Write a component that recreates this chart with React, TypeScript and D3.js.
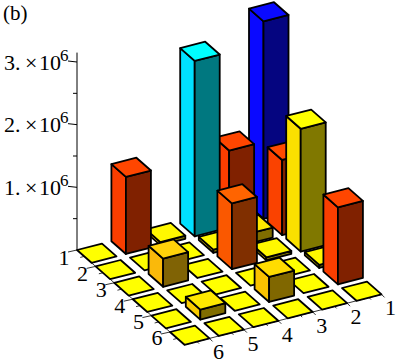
import React from "react";
import * as d3 from "d3";

const rowLabels = ["1", "2", "3", "4", "5", "6"];
const colLabels = ["1", "2", "3", "4", "5", "6"];
const zTicks = [1000000, 2000000, 3000000];
const zMinorTicks = [500000, 1500000, 2500000];

// heights per row, columns 1..6
const row1 = [3150000, 1230000, 2800000, 50000, 1230000, 0];
const row2 = [1200000, 160000, 50000, 0, 0, 0];
const row3 = [1960000, 50000, 1050000, 0, 450000, 0];
const row4 = [50000, 0, 0, 0, 0, 0];
const row5 = [1230000, 0, 400000, 0, 160000, 0];
const row6 = [0, 0, 0, 0, 0, 0];
const rows = [row1, row2, row3, row4, row5, row6];

const width = 398;
const height = 364;

// oblique projection
const rowX = d3.scaleLinear().domain([1, 6]).range([0, 93]);
const rowY = d3.scaleLinear().domain([1, 6]).range([0, 82]);
const colX = d3.scaleLinear().domain([6, 1]).range([77, 249]);
const colY = d3.scaleLinear().domain([6, 1]).range([250, 206]);
const zY = d3.scaleLinear().domain([0, 3000000]).range([0, 188]);

const project = (i: number, j: number, z: number): [number, number] => [
  rowX(i) + colX(j),
  rowY(i) + colY(j) - zY(z),
];

const cellI = 0.78;
const cellJ = 0.727;

const topColor = d3
  .scaleLinear<string>()
  .domain([0, 160000, 400000, 450000, 1050000, 1230000, 1960000, 2800000, 3150000])
  .range(["#ffff00", "#ffe800", "#ffdc00", "#ffd20a", "#ff6400", "#ff4600", "#ffff00", "#00ffff", "#0a0aff"]);

const leftFace = (c: string) => {
  const k = d3.rgb(c);
  return d3.rgb(k.r * 0.98, k.g * 0.88, k.b).formatHex();
};
const rightFace = (c: string) => {
  const k = d3.rgb(c);
  return d3.rgb(k.r * 0.5, k.g * 0.47, k.b * 0.5).formatHex();
};

const poly = d3.line();

type Bar = { i: number; j: number; z: number };
const bars: Bar[] = rows
  .flatMap((r, a) => r.map((z, b) => ({ i: a + 1, j: b + 1, z })))
  .sort((p, q) => p.i + p.j - (q.i + q.j));

function Column({ i, j, z }: Bar) {
  const c = topColor(z);
  const corners = (h: number) => [
    project(i, j, h), // left
    project(i, j - cellJ, h), // back
    project(i + cellI, j - cellJ, h), // right
    project(i + cellI, j, h), // front
  ];
  const t = corners(z);
  const b = corners(0);
  const common = { stroke: "#000", strokeWidth: 1.8, strokeLinejoin: "round" as const };
  if (z === 0) return <path d={poly(t) + "Z"} fill={c} {...common} />;
  return (
    <g>
      <path d={poly([t[0], t[3], b[3], b[0]]) + "Z"} fill={leftFace(c)} {...common} />
      <path d={poly([t[3], t[2], b[2], b[3]]) + "Z"} fill={rightFace(c)} {...common} />
      <path d={poly(t) + "Z"} fill={c} {...common} />
    </g>
  );
}

const textStyle = { fontFamily: "'Liberation Serif', serif", fill: "#000" };

export default function App() {
  const [ax, ay] = project(1, 6, 0);
  const rowEnd = project(6 + cellI, 6, 0);
  const colEnd = project(6 + cellI, 1 - cellJ, 0);
  const axisTop = ay - zY(3150000);

  return (
    <svg
      width={width}
      height={height}
      viewBox={`0 0 ${width} ${height}`}
      style={{ position: "absolute", left: 0, top: 0, background: "#fff" }}
    >
      <text x={3} y={20} fontSize={21} {...textStyle}>
        (b)
      </text>

      {/* vertical axis */}
      <line x1={ax} y1={ay} x2={ax} y2={axisTop} stroke="#000" strokeWidth={1} />
      {zTicks.map((t) => (
        <g key={t}>
          <line x1={ax - 9} y1={ay - zY(t) - 1} x2={ax} y2={ay - zY(t)} stroke="#000" strokeWidth={1} />
          <text y={ay - zY(t) + 7.5} fontSize={22} {...textStyle}>
            <tspan x={4}>{d3.format("d")(t / 1000000)}.</tspan>
            <tspan x={25}>×</tspan>
            <tspan x={39}>10</tspan>
            <tspan x={60} dy={-9} fontSize={17}>
              6
            </tspan>
          </text>
        </g>
      ))}
      {zMinorTicks.map((t) => (
        <line key={t} x1={ax - 4} y1={ay - zY(t)} x2={ax} y2={ay - zY(t)} stroke="#000" strokeWidth={1} />
      ))}

      {/* floor axes */}
      <line x1={ax} y1={ay} x2={rowEnd[0]} y2={rowEnd[1]} stroke="#000" strokeWidth={0.8} />
      <line x1={rowEnd[0]} y1={rowEnd[1]} x2={colEnd[0]} y2={colEnd[1]} stroke="#000" strokeWidth={0.8} />

      {rowLabels.map((l, n) => {
        const [x, y] = project(n + 1, 6, 0);
        const [mx, my] = project(n + 1 + cellI / 2, 6, 0);
        return (
          <g key={l}>
            <line x1={x - 9} y1={y + 2} x2={x} y2={y} stroke="#000" strokeWidth={0.8} />
            <line x1={mx - 4} y1={my + 1} x2={mx} y2={my} stroke="#000" strokeWidth={0.8} />
            <text x={x - 13} y={y + 15 - n * 0.4} fontSize={22} textAnchor="middle" {...textStyle}>
              {l}
            </text>
          </g>
        );
      })}

      {colLabels.map((l, n) => {
        const [x, y] = project(6 + cellI, n + 1 - cellJ, 0);
        const [mx, my] = project(6 + cellI, n + 1 - cellJ / 2, 0);
        return (
          <g key={l}>
            <line x1={x} y1={y} x2={x + 3} y2={y + 3} stroke="#000" strokeWidth={0.8} />
            <line x1={mx} y1={my} x2={mx + 2} y2={my + 2} stroke="#000" strokeWidth={0.8} />
            <text x={x + 9} y={y + 21} fontSize={22} textAnchor="middle" {...textStyle}>
              {l}
            </text>
          </g>
        );
      })}

      {bars.map((b) => (
        <Column key={`${b.i}-${b.j}`} {...b} />
      ))}
    </svg>
  );
}
